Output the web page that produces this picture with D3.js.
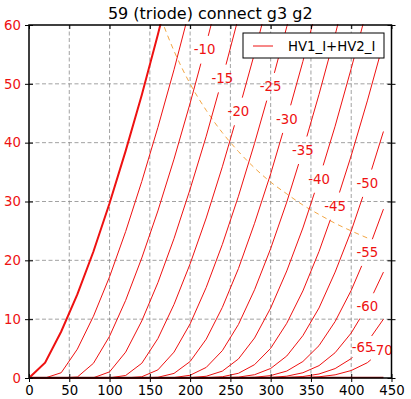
<!DOCTYPE html>
<html>
<head>
<meta charset="utf-8">
<script src="https://cdn.jsdelivr.net/npm/d3@7"></script>
<style>
  html, body { margin: 0; padding: 0; background: #fff; }
  svg { display: block; font-family: "DejaVu Sans", sans-serif; }
</style>
</head>
<body>
<svg id="chart" width="411" height="399"></svg>
<script>
// plate voltage samples (V)
const plateV = [0, 20, 40, 60, 80, 100, 120, 140, 160, 180, 200, 220, 240, 260, 280, 300, 320, 340, 360, 380, 400, 420, 440];

// grid voltage of each curve
const gridV = [0, -5, -10, -15, -20, -25, -30, -35, -40, -45, -50, -55, -60, -65, -70];

// plate current (mA) read per curve, one value per plate voltage sample
const i_g0 = [0, 2.6, 7.9, 14.2, 21.5, 29.7, 38.6, 48.1, 58.4, 69.2];
const i_g5 = [0, 0, 0.9, 4.9, 10.5, 17.2, 24.9, 33.4, 42.6, 52.4, 62.9];
const i_g10 = [0, 0, 0, 0.16, 2.5, 7.1, 13.2, 20.4, 28.4, 37.2, 46.7, 56.8, 67.5];
const i_g15 = [0, 0, 0, 0, 0.04, 1.04, 4.4, 9.7, 16.2, 23.7, 32.1, 41.1, 50.9, 61.3];
const i_g20 = [0, 0, 0, 0, 0, 0.02, 0.43, 2.5, 6.7, 12.5, 19.4, 27.2, 35.9, 45.3, 55.2, 65.9];
const i_g25 = [0, 0, 0, 0, 0, 0, 0.01, 0.21, 1.38, 4.4, 9.2, 15.4, 22.7, 30.9, 39.9, 49.5, 59.7, 70.5];
const i_g30 = [0, 0, 0, 0, 0, 0, 0, 0.01, 0.12, 0.78, 2.8, 6.6, 12.0, 18.6, 26.3, 34.7, 44.0, 53.8, 64.4];
const i_g35 = [0, 0, 0, 0, 0, 0, 0, 0, 0.01, 0.07, 0.47, 1.8, 4.65, 9.1, 15.0, 22.0, 29.9, 38.7, 48.2, 58.3, 69.1];
const i_g40 = [0, 0, 0, 0, 0, 0, 0, 0, 0, 0.01, 0.05, 0.3, 1.17, 3.24, 6.8, 11.9, 18.2, 25.5, 33.8, 42.8, 52.6, 62.9];
const i_g45 = [0, 0, 0, 0, 0, 0, 0, 0, 0, 0, 0, 0.04, 0.21, 0.8, 2.27, 5.05, 9.3, 14.8, 21.5, 29.2, 37.8, 47.1, 57.0];
const i_g50 = [0, 0, 0, 0, 0, 0, 0, 0, 0, 0, 0, 0, 0.03, 0.15, 0.56, 1.62, 3.74, 7.2, 11.9, 18.0, 25.0, 33.1, 41.9];
const i_g55 = [0, 0, 0, 0, 0, 0, 0, 0, 0, 0, 0, 0, 0, 0.03, 0.12, 0.41, 1.18, 2.8, 5.5, 9.6, 14.9, 21.3, 28.7];
const i_g60 = [0, 0, 0, 0, 0, 0, 0, 0, 0, 0, 0, 0, 0, 0, 0.02, 0.09, 0.31, 0.89, 2.1, 4.3, 7.65, 12.2, 18.0];
const i_g65 = [0, 0, 0, 0, 0, 0, 0, 0, 0, 0, 0, 0, 0, 0, 0, 0.02, 0.08, 0.25, 0.68, 1.6, 3.3, 6.1, 10.0];
const i_g70 = [0, 0, 0, 0, 0, 0, 0, 0, 0, 0, 0, 0, 0, 0, 0, 0, 0.02, 0.06, 0.2, 0.54, 1.27, 2.6, 4.9];

const curveI = [i_g0, i_g5, i_g10, i_g15, i_g20, i_g25, i_g30, i_g35, i_g40, i_g45, i_g50, i_g55, i_g60, i_g65, i_g70];

// inline labels: which curve, and at what plate voltage the label sits
const labelGrid = [-10, -15, -20, -25, -30, -35, -40, -45, -50, -55, -60, -65, -70];
const labelAtV = [218, 240, 260, 300, 320, 340, 360, 380, 420, 420, 420, 414, 438];

// plate dissipation limit (10 W)
const pdissV = [160, 180, 200, 220, 240, 260, 280, 300, 320, 340, 360, 380, 400, 420];
const pdissI = [62.5, 55.6, 50.0, 45.5, 41.7, 38.5, 35.7, 33.3, 31.3, 29.4, 27.8, 26.3, 25.0, 23.8];

const xTicks = [0, 50, 100, 150, 200, 250, 300, 350, 400, 450];
const yTicks = [0, 10, 20, 30, 40, 50, 60];
const chartTitle = '59 (triode) connect g3 g2';
const legendLabel = 'HV1_I+HV2_I';

const RED = '#ee1111';
const margin = { top: 25, right: 19.5, bottom: 21, left: 29 };
const width = 411, height = 399;
const pw = width - margin.left - margin.right;
const ph = height - margin.top - margin.bottom;

const svg = d3.select('#chart');
const x = d3.scaleLinear().domain([0, 450]).range([0, pw]);
const y = d3.scaleLinear().domain([0, 60]).range([ph, 0]);

svg.append('defs').append('clipPath').attr('id', 'plotclip')
  .append('rect').attr('x', 0).attr('y', -1).attr('width', pw).attr('height', ph + 2);

const g = svg.append('g').attr('transform', `translate(${margin.left},${margin.top})`);

// grid
g.append('g').selectAll('line').data(xTicks.slice(1, -1)).join('line')
  .attr('x1', d => x(d)).attr('x2', d => x(d)).attr('y1', 0).attr('y2', ph)
  .attr('stroke', '#8a8a8a').attr('stroke-width', 0.8).attr('stroke-dasharray', '4,2.5');
g.append('g').selectAll('line').data(yTicks.slice(1, -1)).join('line')
  .attr('x1', 0).attr('x2', pw).attr('y1', d => y(d)).attr('y2', d => y(d))
  .attr('stroke', '#8a8a8a').attr('stroke-width', 0.8).attr('stroke-dasharray', '4,2.5');

const plot = g.append('g').attr('clip-path', 'url(#plotclip)');

// dissipation curve
plot.append('path')
  .datum(pdissV.map((v, i) => [v, pdissI[i]]))
  .attr('fill', 'none').attr('stroke', '#f2a644').attr('stroke-width', 1)
  .attr('stroke-dasharray', '5,4')
  .attr('d', d3.line().x(d => x(d[0])).y(d => y(d[1])).curve(d3.curveMonotoneX));

const line = d3.line().x(d => x(d[0])).y(d => y(d[1]));
const curves = gridV.map((vg, k) => ({
  vg,
  pts: curveI[k].map((ia, i) => [plateV[i], ia])
}));

const paths = plot.selectAll('path.tube').data(curves).join('path')
  .attr('class', 'tube')
  .attr('fill', 'none')
  .attr('stroke', RED)
  .attr('stroke-width', d => d.vg === 0 ? 2 : 1)
  .attr('d', d => line(d.pts));

// inline labels with a gap cut out of the curve
const labels = g.append('g');
labelGrid.forEach((vg, n) => {
  const c = curves.find(cc => cc.vg === vg);
  const px = c.pts.map(p => [x(p[0]), y(p[1])]);
  const v = labelAtV[n];
  let s = 0, total = 0, lx = 0, ly = 0;
  for (let i = 1; i < px.length; i++) {
    const seg = Math.hypot(px[i][0] - px[i - 1][0], px[i][1] - px[i - 1][1]);
    const v0 = c.pts[i - 1][0], v1 = c.pts[i][0];
    if (v >= v0 && v <= v1) {
      const t = (v - v0) / (v1 - v0);
      lx = px[i - 1][0] + t * (px[i][0] - px[i - 1][0]);
      ly = px[i - 1][1] + t * (px[i][1] - px[i - 1][1]);
      s = total + t * seg;
    }
    total += seg;
  }
  const txt = labels.append('text')
    .attr('x', lx).attr('y', ly)
    .attr('text-anchor', 'middle').attr('dominant-baseline', 'central')
    .attr('fill', RED).attr('font-size', '13.3px')
    .text(vg);
  const gap = txt.node().getComputedTextLength() + 7;
  paths.filter(d => d.vg === vg)
    .attr('stroke-dasharray', `${Math.max(0, s - gap / 2)} ${gap} ${total + 20}`);
});

// axes: outward ticks with labels, inward ticks without
const yAxis = g.append('g').call(d3.axisLeft(y).tickValues(yTicks).tickSize(4).tickPadding(4));
yAxis.selectAll('text').attr('fill', RED).attr('font-size', '13.3px').attr('font-family', '"DejaVu Sans"');
g.append('g').call(d3.axisLeft(y).tickValues(yTicks).tickSize(-4).tickFormat(''));

const xAxis = g.append('g').attr('transform', `translate(0,${ph})`)
  .call(d3.axisBottom(x).tickValues(xTicks).tickSize(4).tickPadding(4));
xAxis.selectAll('text').attr('fill', '#000').attr('font-size', '13.3px').attr('font-family', '"DejaVu Sans"');
g.append('g').attr('transform', `translate(0,${ph})`)
  .call(d3.axisBottom(x).tickValues(xTicks).tickSize(-4).tickFormat(''));

g.append('g').attr('transform', `translate(${pw},0)`)
  .call(d3.axisRight(y).tickValues(yTicks).tickSize(4).tickFormat(''));
g.append('g').attr('transform', `translate(${pw},0)`)
  .call(d3.axisRight(y).tickValues(yTicks).tickSize(-4).tickFormat(''));
g.append('g')
  .call(d3.axisTop(x).tickValues(xTicks).tickSize(-4).tickFormat(''));

g.selectAll('.domain').remove();
g.selectAll('.tick line').attr('stroke', '#000');

// bottom band where the cut-off curves pile up
g.append('line').attr('x1', 0).attr('x2', x(440)).attr('y1', ph - 0.5).attr('y2', ph - 0.5)
  .attr('stroke', '#a01010').attr('stroke-width', 1.5);

// frame
g.append('rect').attr('width', pw).attr('height', ph)
  .attr('fill', 'none').attr('stroke', '#000').attr('stroke-width', 1.5);

// legend
const leg = g.append('g').attr('transform', `translate(${243 - margin.left},${33 - margin.top})`);
leg.append('rect').attr('width', 141).attr('height', 25)
  .attr('fill', '#fff').attr('stroke', '#000').attr('stroke-width', 1);
leg.append('line').attr('x1', 10).attr('x2', 30).attr('y1', 13).attr('y2', 13)
  .attr('stroke', RED).attr('stroke-width', 1);
leg.append('text').attr('x', 45).attr('y', 13).attr('dominant-baseline', 'central')
  .attr('font-size', '13.3px').attr('fill', '#000').text(legendLabel);

// title
svg.append('text').attr('x', margin.left + pw / 2).attr('y', 19)
  .attr('text-anchor', 'middle').attr('font-size', '16px').attr('fill', '#000')
  .text(chartTitle);
</script>
</body>
</html>
